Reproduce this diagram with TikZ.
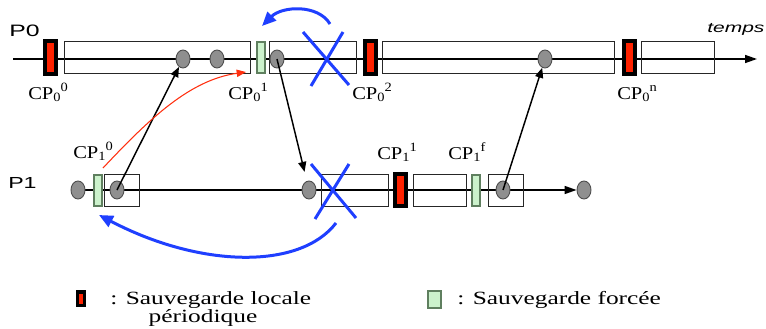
\documentclass[tikz,border=0pt]{standalone}
\usepackage{fontspec}
\setmainfont{Liberation Serif}
\newfontfamily\arialf{Liberation Sans}
\usetikzlibrary{arrows.meta,shapes.geometric,backgrounds}
\definecolor{cpred}{HTML}{FF2200}
\definecolor{cpgreen}{HTML}{CCF2CC}
\definecolor{cpgreenb}{HTML}{5F7F5F}
\definecolor{evgray}{HTML}{8F8F8F}
\definecolor{evborder}{HTML}{505050}
\definecolor{myblue}{HTML}{1F3FFF}
\definecolor{myred}{HTML}{FF3010}
\newcommand\cplab[2]{\scalebox{1.14}[1]{\fontsize{13.5}{14}\selectfont CP\raisebox{-0.35ex}{\fontsize{9.5}{10}\selectfont #1}\raisebox{0.85ex}{\fontsize{9.5}{10}\selectfont #2}}}
\newcommand\legtxt[1]{\scalebox{1.36}[1]{\fontsize{14}{15}\selectfont #1}}
\begin{document}
\begin{tikzpicture}[x=0.75pt,y=-0.75pt,
  redcp/.style={rectangle,inner sep=0pt,minimum width=8.25pt,minimum height=24pt,draw=black,line width=3pt,fill=cpred},
  greencp/.style={rectangle,inner sep=0pt,minimum width=6pt,minimum height=23.25pt,draw=cpgreenb,line width=1.5pt,fill=cpgreen},
  ev/.style={ellipse,inner sep=0pt,minimum width=10.5pt,minimum height=13.5pt,fill=evgray,draw=evborder,line width=0.7pt},
  seg/.style={draw=black!85,line width=0.75pt},
  lab/.style={inner sep=0pt,anchor=base west},
  timeline/.style={line width=1.1pt,-{Triangle[length=9pt,width=6pt]}},
  blk/.style={line width=1.1pt,-{Triangle[length=7.5pt,width=6pt]}},
  blu/.style={myblue,line width=2.25pt,-{Triangle[length=10.5pt,width=9pt]}},
  bluex/.style={myblue,line width=2.25pt},
  redarr/.style={myred,line width=0.8pt,-{Triangle[length=7pt,width=5.5pt]}}
]
\useasboundingbox (0,0) rectangle (766,328);

% segments (intervals)
\draw[seg] (64,42) rectangle (250,73);
\draw[seg] (269,42) rectangle (356,73);
\draw[seg] (382,42) rectangle (614,73);
\draw[seg] (641,42) rectangle (714,73);
\draw[seg] (104,174) rectangle (139,206);
\draw[seg] (321,174) rectangle (388,206);
\draw[seg] (413,174) rectangle (466,206);
\draw[seg] (488,174) rectangle (523,206);

% events
\node[ev] (a1) at (183,59) {};
\node[ev] (a2) at (217,59) {};
\node[ev] (a3) at (277,59) {};
\node[ev] (a4) at (545,59) {};
\node[ev] (b0) at (78,190) {};
\node[ev] (b1) at (117,190) {};
\node[ev] (b2) at (309,190) {};
\node[ev] (b3) at (503,190) {};
\node[ev] (b4) at (584,190) {};

% checkpoints
\node[redcp] (c00) at (50.5,57.5) {};
\node[greencp] (c01) at (261,57.5) {};
\node[redcp] (c02) at (370.5,57.5) {};
\node[redcp] (c0n) at (629,57.5) {};
\node[greencp] (c10) at (97.5,190) {};
\node[redcp] (c11) at (400.5,190) {};
\node[greencp] (c1f) at (476,190) {};

% time lines
\coordinate (p0s) at (13,59);
\coordinate (p0e) at (757,59);
\begin{scope}[on background layer]
\draw[timeline] (p0s) -- (p0e);
\draw[timeline] (b0.center) -- (b4);
\end{scope}

% process labels
\node[lab] (lp0) at (9,37) {\scalebox{1.5}[1]{\arialf\fontsize{12.4}{13}\selectfont P0}};
\node[lab] (lp1) at (8,188) {\scalebox{1.45}[1]{\arialf\fontsize{12}{13}\selectfont P1}};
\node[lab] (ltemps) at (707,33) {\scalebox{1.5}[1]{\arialf\itshape\fontsize{10.5}{11}\selectfont temps}};

% checkpoint labels
\node[lab] (l00) at (28,99) {\cplab{0}{0}};
\node[lab] (l01) at (228,99) {\cplab{0}{1}};
\node[lab] (l02) at (352,99) {\cplab{0}{2}};
\node[lab] (l0n) at (617,99) {\cplab{0}{n}};
\node[lab] (l10) at (73,158) {\cplab{1}{0}};
\node[lab] (l11) at (377,159) {\cplab{1}{1}};
\node[lab] (l1f) at (448,159) {\cplab{1}{f}};

% messages
\draw[blk] (b1.center) -- (a1);
\draw[blk,shorten >=7pt] (a3.center) -- (b2);
\draw[blk] (b3.center) -- (a4);
\coordinate (rs) at (103,168);
\coordinate (re) at (246,72);
\draw[redarr] (rs) .. controls (150,118) and (190,80) .. (re);

% rollbacks
\draw[bluex] (303,32) -- (349,85);
\draw[bluex] (343,32) -- (311,86);
\draw[bluex] (311,164) -- (356,218);
\draw[bluex] (349,164) -- (315,219);
\coordinate (bts) at (330,24);
\coordinate (bte) at (262,26);
\draw[blu] (bts) .. controls (318,4) and (282,6) .. (bte);
\coordinate (bbs) at (336,223);
\coordinate (bbe) at (99,215);
\draw[blu] (bbs) .. controls (300,270) and (200,268) .. (bbe);

% legend
\node[redcp,minimum width=5.25pt,minimum height=10pt,line width=2.5pt] (legr) at (81,298.5) {};
\node[lab] (legrt) at (110,304) {\legtxt{: Sauvegarde locale}};
\node[inner sep=0pt,anchor=base] (legrt2) at (203,322) {\legtxt{périodique}};
\node[greencp,minimum width=9.75pt,minimum height=12.75pt] (legg) at (434.5,299.5) {};
\node[lab] (leggt) at (457,304) {\legtxt{: Sauvegarde forcée}};
\end{tikzpicture}
\end{document}
